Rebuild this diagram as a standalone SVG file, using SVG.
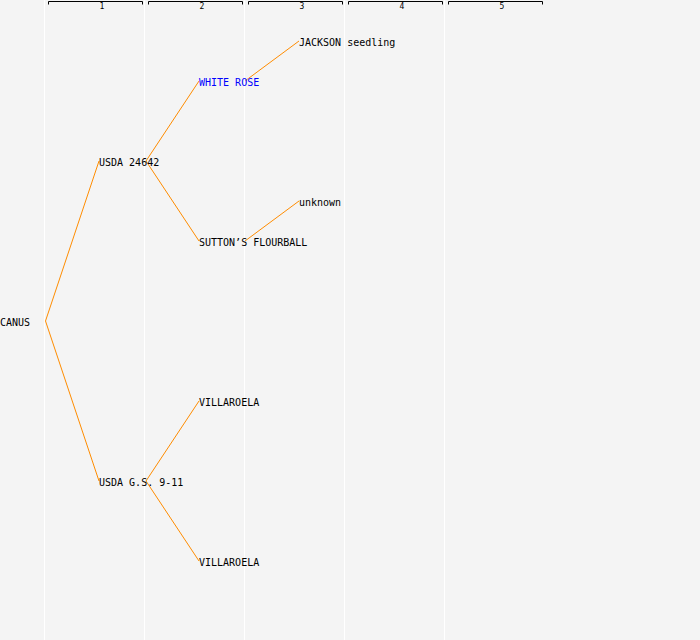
<svg xmlns="http://www.w3.org/2000/svg" width="700" height="640" viewBox="0 0 700 640">
<style>
.grid{stroke:#ffffff;stroke-width:1}
.br{fill:none;stroke:#000;stroke-width:1}
.hd{font-family:"DejaVu Sans Mono",monospace;font-size:8px;fill:#000;text-anchor:middle}
.lbl{font-family:"DejaVu Sans Mono",monospace;font-size:10px;fill:#000}
.blue{fill:#0000ff}
.edge{fill:none;stroke:#ff8c00;stroke-width:1}
</style>
<rect width="700" height="640" fill="#f4f4f4"/>
<g id="grid">
<line class="grid" x1="44.5" y1="0" x2="44.5" y2="640"/>
<line class="grid" x1="144.5" y1="0" x2="144.5" y2="640"/>
<line class="grid" x1="244.5" y1="0" x2="244.5" y2="640"/>
<line class="grid" x1="344.5" y1="0" x2="344.5" y2="640"/>
<line class="grid" x1="444.5" y1="0" x2="444.5" y2="640"/>
</g>
<g id="header">
<path class="br" d="M48.5,4.5 V1.5 H142.5 V4.5"/>
<path class="br" d="M148.5,4.5 V1.5 H242.5 V4.5"/>
<path class="br" d="M248.5,4.5 V1.5 H342.5 V4.5"/>
<path class="br" d="M348.5,4.5 V1.5 H442.5 V4.5"/>
<path class="br" d="M448.5,4.5 V1.5 H542.5 V4.5"/>
<text class="hd" x="102" y="9">1</text>
<text class="hd" x="202" y="9">2</text>
<text class="hd" x="302" y="9">3</text>
<text class="hd" x="402" y="9">4</text>
<text class="hd" x="502" y="9">5</text>
</g>
<g id="connectors">
<polyline class="edge" points="99,161 45.5,321 99,481"/>
<polyline class="edge" points="199,81 146,161 199,241"/>
<polyline class="edge" points="199,401 146,481 199,561"/>
<line class="edge" x1="245" y1="81" x2="299" y2="41"/>
<line class="edge" x1="245" y1="241" x2="299" y2="201"/>
</g>
<g id="n-canus"><text class="lbl" x="0" y="326">CANUS</text></g>
<g id="n-usda24642"><text class="lbl" x="99" y="166">USDA 24642</text></g>
<g id="n-usdags"><text class="lbl" x="99" y="486">USDA G.S. 9-11</text></g>
<g id="n-whiterose"><text class="lbl blue" x="199" y="86">WHITE ROSE</text></g>
<g id="n-sutton"><text class="lbl" x="199" y="246">SUTTON’S FLOURBALL</text></g>
<g id="n-villaroela1"><text class="lbl" x="199" y="406">VILLAROELA</text></g>
<g id="n-villaroela2"><text class="lbl" x="199" y="566">VILLAROELA</text></g>
<g id="n-jackson"><text class="lbl" x="299" y="46">JACKSON seedling</text></g>
<g id="n-unknown"><text class="lbl" x="299" y="206">unknown</text></g>
</svg>
